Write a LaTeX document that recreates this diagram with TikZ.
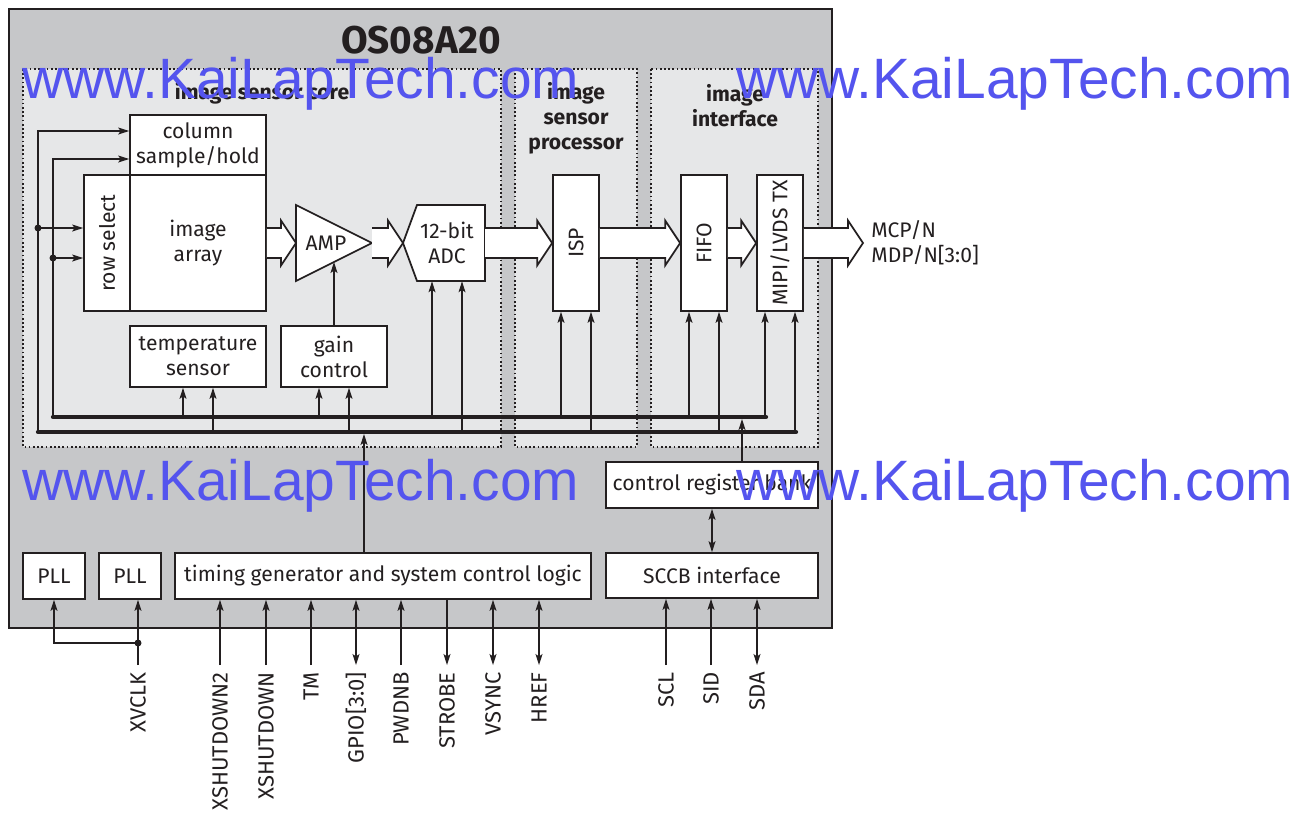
\documentclass[tikz,border=0pt]{standalone}
\usepackage{fontspec}
\setmainfont{Fira Sans}
\newfontfamily\wmfont{Liberation Sans}
\usepackage{graphicx}
\usepackage{tikz}
\usetikzlibrary{arrows.meta,calc}
\definecolor{chipgray}{RGB}{198,199,201}
\definecolor{coregray}{RGB}{230,231,232}
\definecolor{wmblue}{RGB}{84,84,238}
\definecolor{ink}{RGB}{35,31,32}

\begin{document}
\begin{tikzpicture}[x=0.02cm, y=-0.02cm, >={Stealth[length=0.22cm,width=0.14cm,inset=0.05cm]},
    font=\fontsize{12}{14.2}\selectfont,
    box/.style={draw=ink, line width=1pt, fill=white, text=ink, align=center, inner sep=0pt},
    zone/.style={draw=ink, line width=1pt, dash pattern=on 1pt off 1.4pt, fill=coregray},
    zonelab/.style={font=\fontsize{12}{14.2}\selectfont\bfseries, text=ink, align=center},
    sig/.style={draw=ink, line width=0.6pt},
    pinin/.style={->}, pinout/.style={<-}, pinio/.style={<->},
    bus/.style={draw=ink, line width=2.4pt, line cap=round},
    fat/.style={draw=ink, line width=1pt, fill=white, line join=miter},
    pinlab/.style={rotate=90, anchor=east, inner sep=0pt, text=ink, font=\fontsize{12.5}{14.2}\selectfont},
    wm/.style={font=\wmfont\fontsize{32.4}{36}\selectfont, text=wmblue, anchor=base west, inner sep=0pt}]
    \useasboundingbox (0,0) rectangle (1300,819);
    \def\fatarrow#1#2{\draw[fat] let \p1=(#1), \p2=(#2) in
        (\x1,\y1+0.3cm) -- (\x2-0.3cm,\y1+0.3cm) -- (\x2-0.3cm,\y1+0.45cm) -- (\x2,\y1)
        -- (\x2-0.3cm,\y1-0.45cm) -- (\x2-0.3cm,\y1-0.3cm) -- (\x1,\y1-0.3cm);}

    % chip and the three zones
    \draw[draw=ink, line width=1.4pt, fill=chipgray] (9,9) rectangle (832,628);
    \draw[zone] (23,69) rectangle (501,447);
    \draw[zone] (515,69) rectangle (637,447);
    \draw[zone] (651,69) rectangle (818,447);
    \node[font=\fontsize{22}{26}\selectfont\bfseries, text=ink] (title) at (421,40) {OS08A20};
    \node[zonelab] (corelab) at (262,93) {image sensor core};
    \node[zonelab] (isplab) at (576,118) {image\\sensor\\processor};
    \node[zonelab] (iflab) at (735,105.5) {image\\interface};

    % blocks
    \node[box, minimum width=2.72cm, minimum height=1.2cm] (colsh) at (198,145) {column\\sample/hold};
    \node[box, minimum width=2.72cm, minimum height=2.72cm] (imgarr) at (198,243) {image\\array};
    \node[box, minimum width=0.92cm, minimum height=2.72cm] (rowsel) at (107,243) {\rotatebox{90}{row select}};
    \node[box, minimum width=2.72cm, minimum height=1.22cm] (tsens) at (198,356.5) {temperature\\sensor};
    \node[box, minimum width=2.12cm, minimum height=1.22cm] (gain) at (334,356.5) {gain\\control};
    \node[box, minimum width=0.92cm, minimum height=2.72cm] (isp) at (576,243) {\rotatebox{90}{ISP}};
    \node[box, minimum width=0.92cm, minimum height=2.72cm] (fifo) at (704,243) {\rotatebox{90}{FIFO}};
    \node[box, minimum width=0.92cm, minimum height=2.72cm] (mipi) at (780,243) {\rotatebox{90}{MIPI/LVDS TX}};
    \node[box, minimum width=4.24cm, minimum height=0.92cm] (crb) at (712,485) {control register bank};
    \node[box, minimum width=4.24cm, minimum height=0.9cm] (sccb) at (712,575.5) {SCCB interface};
    \node[box, minimum width=1.24cm, minimum height=0.92cm] (pll1) at (54,576) {PLL};
    \node[box, minimum width=1.24cm, minimum height=0.92cm] (pll2) at (130,576) {PLL};
    \node[box, minimum width=8.32cm, minimum height=0.92cm] (tg) at (383,576) {timing generator and system control logic};

    % amplifier and ADC
    \coordinate (ampin) at (296,243);
    \coordinate (ampout) at (372,243);
    \coordinate (ampbot) at (334,262);
    \draw[fat] (296,205) -- (ampout) -- (296,281) -- cycle;
    \node[text=ink] (amp) at (326,243) {AMP};
    \coordinate (adcin) at (403,243);
    \coordinate (adcout) at (485,243);
    \draw[fat] (adcin) -- (417,205) -- (485,205) -- (485,281) -- (417,281) -- cycle;
    \node[text=ink, align=center, minimum height=1.52cm, inner sep=0pt] (adc) at (447,243) {12-bit\\ADC};

    % data path
    \fatarrow{imgarr.east}{ampin}
    \fatarrow{ampout}{adcin}
    \fatarrow{adcout}{isp.west}
    \fatarrow{isp.east}{fifo.west}
    \fatarrow{fifo.east}{mipi.west}
    \coordinate (mipiout) at (863,243);
    \fatarrow{mipi.east}{mipiout}
    \node[anchor=west, align=left, text=ink, inner sep=0pt] (outlab) at (871,243) {MCP/N\\MDP/N[3:0]};

    % control buses
    \coordinate (busA) at (53,417);
    \coordinate (busAend) at (766,417);
    \coordinate (busB) at (38,432);
    \coordinate (busBend) at (796,432);
    \foreach \b in {tsens,gain,adc,isp,fifo,mipi}{
        \path (\b.south) ++(-15,0) coordinate (tapL) ++(30,0) coordinate (tapR);
        \draw[sig, ->] (tapL |- busA) -- (tapL);
        \draw[sig, ->] (tapR |- busB) -- (tapR);
    }
    \path (colsh.west) ++(0,-14) coordinate (cs1) ++(0,28) coordinate (cs2);
    \path (rowsel.west) ++(0,-15) coordinate (rs1) ++(0,30) coordinate (rs2);
    \draw[sig, ->] (busB) |- (cs1);
    \draw[sig, ->] (busA) |- (cs2);
    \draw[sig, ->] (rs1 -| busB) -- (rs1);
    \draw[sig, ->] (rs2 -| busA) -- (rs2);
    \fill[ink] (rs1 -| busB) circle (0.07cm);
    \fill[ink] (rs2 -| busA) circle (0.07cm);
    \draw[sig, ->] (gain.north) -- (ampbot);
    \path (tg.north) ++(-19,0) coordinate (tgup);
    \draw[sig, ->, shorten >=0.04cm] (tgup) -- (tgup |- busB);
    \path (crb.north) ++(30,0) coordinate (crbup);
    \draw[sig, ->, shorten >=0.04cm] (crbup) -- (crbup |- busA);
    \draw[sig, <->] (crb.south) -- (sccb.north);
    \draw[bus] (busA) -- (busAend);
    \draw[bus] (busB) -- (busBend);

    % pins
    \node[pinlab] (xvclk) at (138,672) {XVCLK};
    \draw[sig, ->, shorten <=0.14cm] (xvclk.east) -- (xvclk.east |- pll2.south);
    \coordinate (clkdot) at (138,643);
    \fill[ink] (clkdot) circle (0.07cm);
    \draw[sig, ->] (clkdot) -| (pll1.south);
    \foreach \xx/\lab/\dir/\blk [count=\i] in {220/XSHUTDOWN2/pinin/tg, 266/XSHUTDOWN/pinin/tg,
        311/TM/pinin/tg, 356/{GPIO[3:0]}/pinio/tg, 401/PWDNB/pinin/tg, 447/STROBE/pinout/tg,
        493/VSYNC/pinio/tg, 539/HREF/pinio/tg, 666/SCL/pinin/sccb, 711/SID/pinin/sccb, 757/SDA/pinio/sccb}{
        \node[pinlab] (pin\i) at (\xx,672) {\lab};
        \draw[sig, \dir, shorten <=0.14cm] (pin\i.east) -- (pin\i.east |- \blk.south);
    }

    % watermark
    \node[wm] (wm1) at (22,98) {www.KaiLapTech.com};
    \node[wm] (wm2) at (736,98) {www.KaiLapTech.com};
    \node[wm] (wm3) at (22,500) {www.KaiLapTech.com};
    \node[wm] (wm4) at (736,500) {www.KaiLapTech.com};
\end{tikzpicture}
\end{document}
